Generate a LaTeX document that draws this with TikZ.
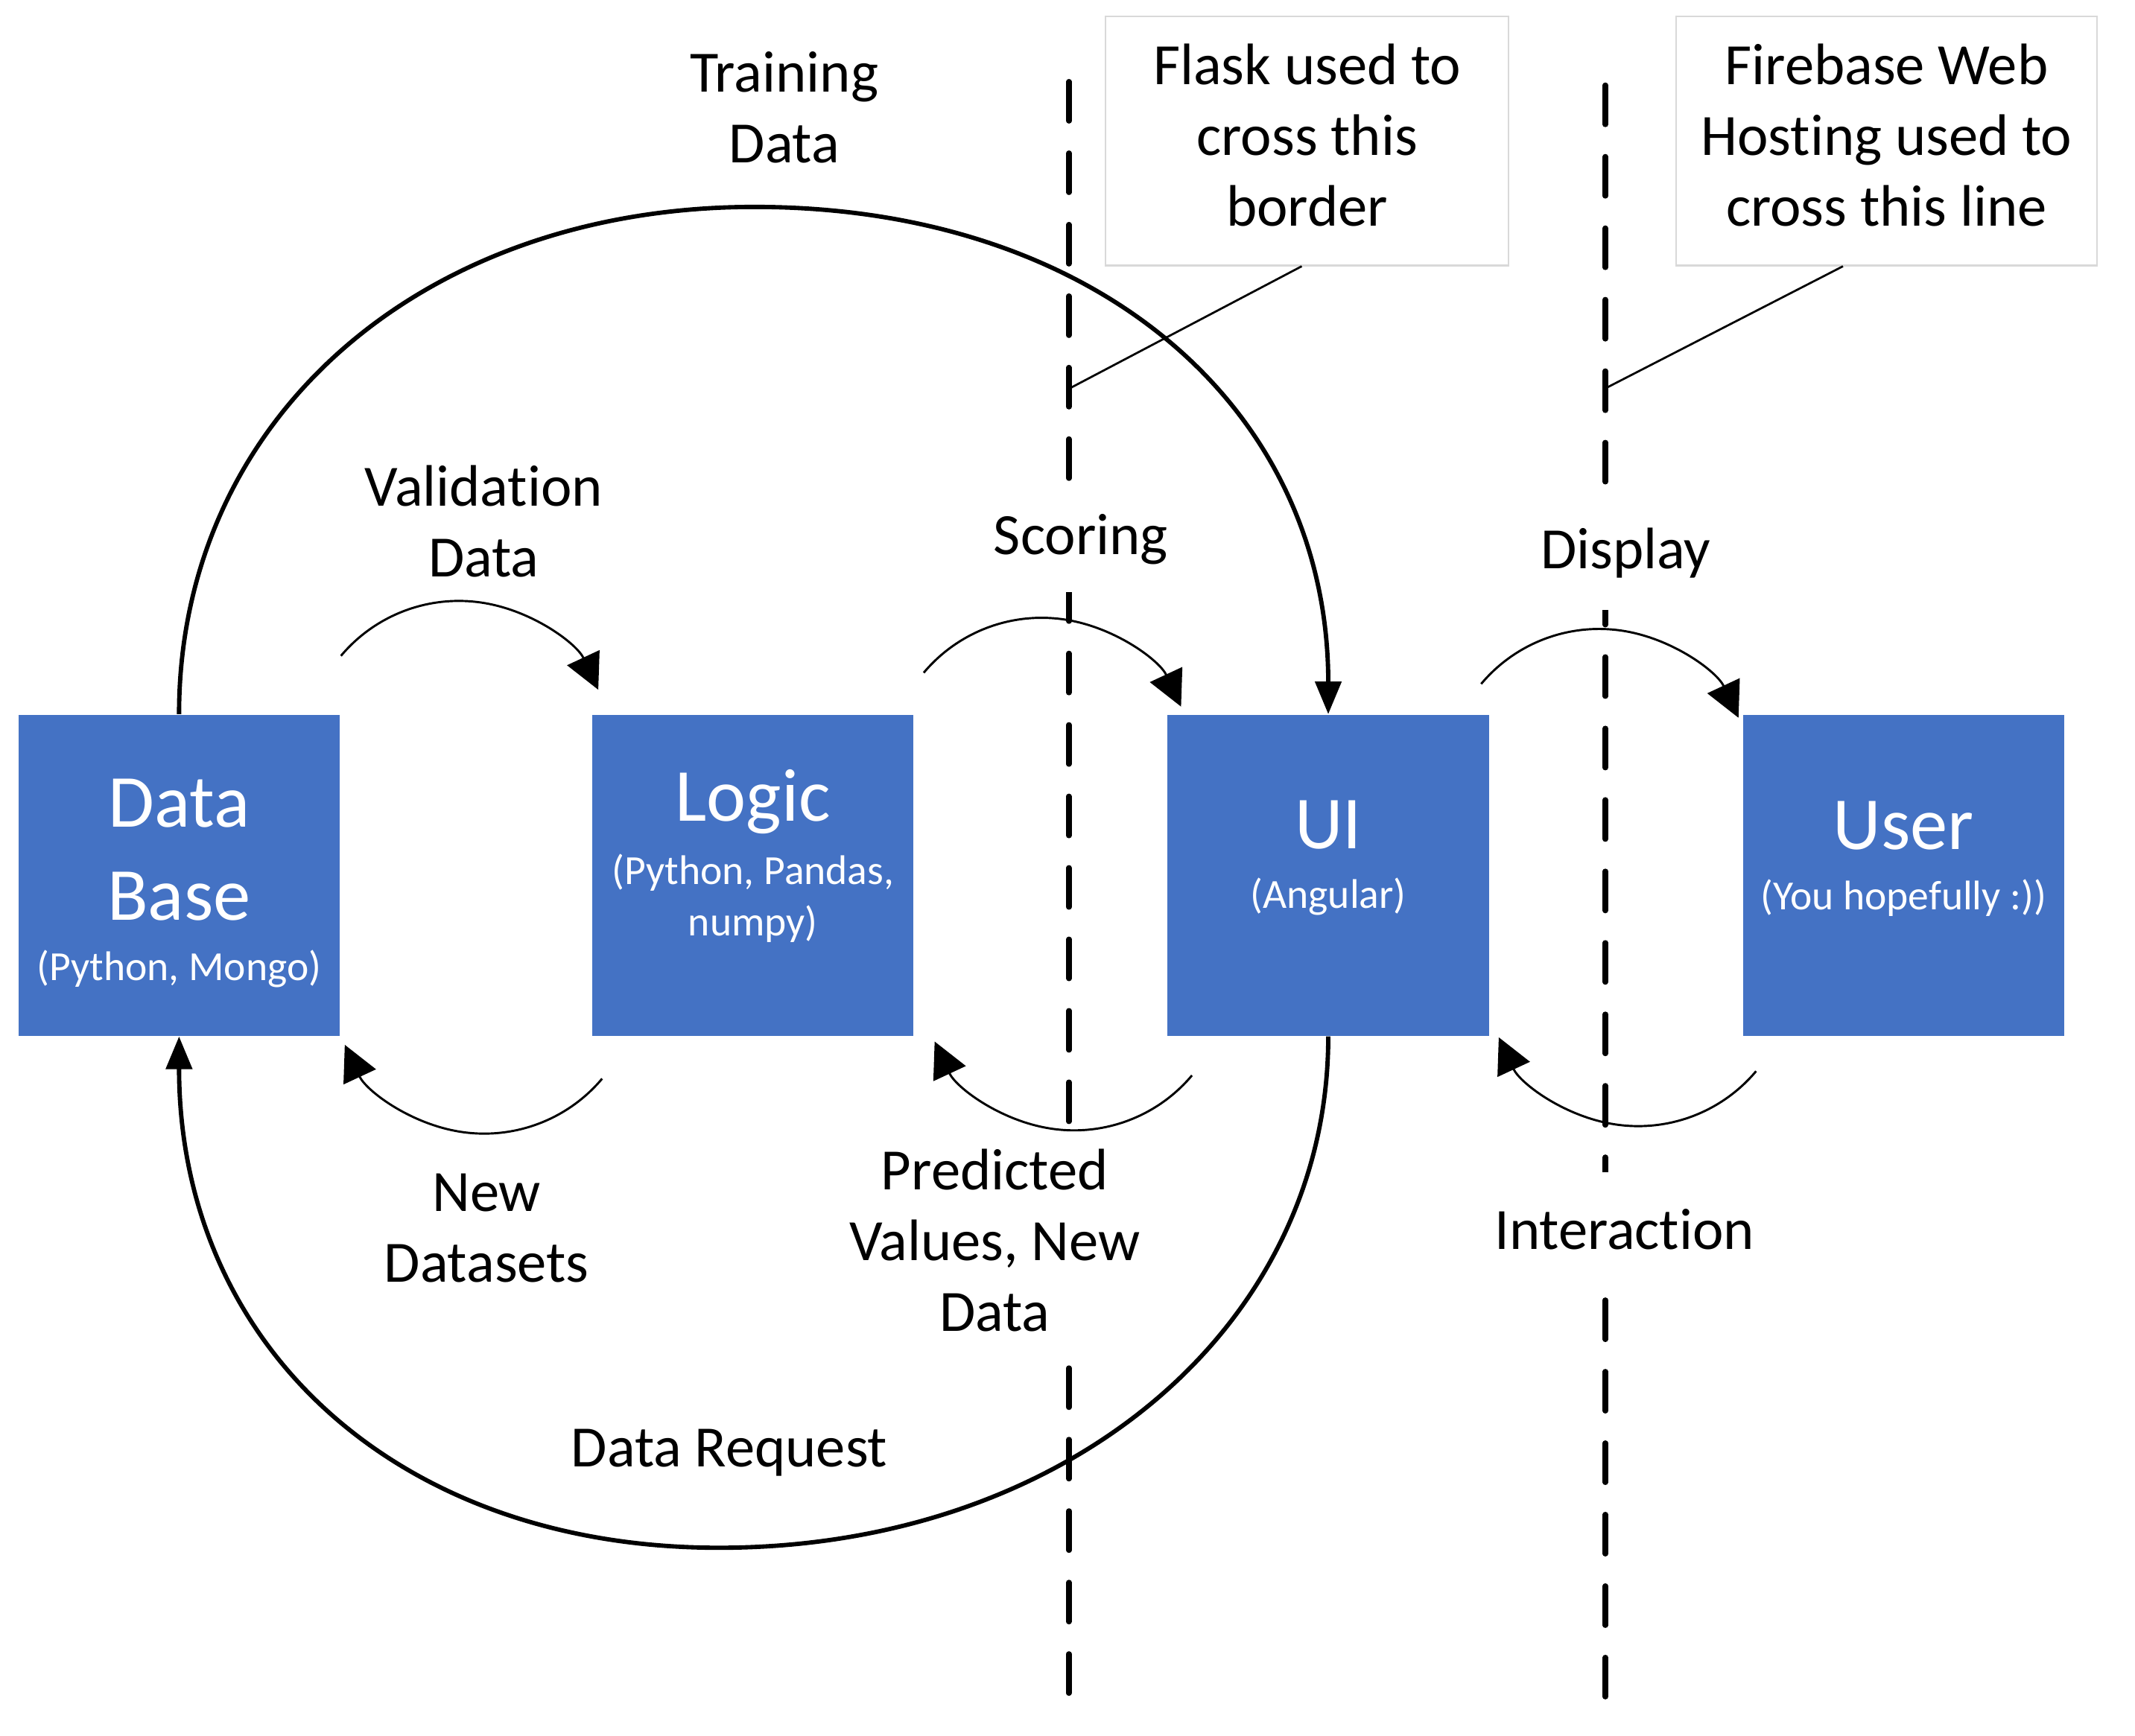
\documentclass[tikz,border=0pt]{standalone}
\usepackage{fontspec}
\setmainfont{Carlito}[Ligatures={NoCommon,NoRequired,NoContextual},RawFeature={-liga;-clig;-calt;-rlig;-dlig}]
\usetikzlibrary{arrows.meta}
\definecolor{boxblue}{HTML}{4472C4}
\definecolor{notegray}{HTML}{D9D9D9}
\begin{document}
\begin{tikzpicture}[x=0.5pt,y=-0.5pt,
  blockbox/.style={fill=boxblue, draw=none, minimum width=118pt, minimum height=118pt, inner sep=0pt},
  bigtext/.style={text=white, font=\fontsize{27.5}{34}\selectfont, anchor=base, inner sep=0pt},
  subtext/.style={text=white, font=\fontsize{15.2}{19}\selectfont, anchor=base, inner sep=0pt},
  lbl/.style={font=\fontsize{21.5}{26}\selectfont, align=center, inner sep=0pt},
  masklbl/.style={lbl, fill=white, inner xsep=3pt},
  notebox/.style={lbl, draw=notegray, line width=0.6pt, fill=white, minimum height=91.5pt},
  dashline/.style={line width=2pt, dash pattern=on 14.4pt off 11.85pt, line cap=round},
  pointer/.style={line width=0.75pt},
  bigflow/.style={line width=1.6pt, -{Triangle[length=12pt,width=9.5pt]}},
  smallflow/.style={line width=0.8pt, -{Triangle[length=13pt,width=13pt]}},
]
\useasboundingbox (0,0) rectangle (1568,1275);

% borders (dashed)
\coordinate (L1top) at (785,60);
\coordinate (L1bot) at (785,1245);
\coordinate (L2top) at (1179,62.6);
\coordinate (L2bot) at (1179,1247);
\draw[dashline] (L1top) -- (L1bot);
\draw[dashline] (L2top) -- (L2bot);

% notes
\node[notebox, minimum width=148pt] (flask) at (960,103.5)
  {\strut Flask used to\\\strut cross this\\\strut border};
\node[notebox, minimum width=154.5pt] (fire) at (1385.5,103.5)
  {\strut Firebase Web\\\strut Hosting used to\\\strut cross this line};
\coordinate (p1) at (785,285.6);
\coordinate (p2) at (1179,285.3);
\draw[pointer] ([xshift=-2pt]flask.south) -- (p1);
\draw[pointer] ([xshift=-16pt]fire.south) -- (p2);

% labels
\node[lbl] (train) at (576,83.2) {\strut Training\\\strut Data};
\node[lbl] (valid) at (355.3,387.2) {\strut Validation\\\strut Data};
\node[masklbl, minimum height=38pt] (score) at (793.8,396.9) {\strut Scoring};
\node[masklbl, minimum height=40.8pt] (disp) at (1194,407.2) {\strut Display};
\node[lbl] (newds) at (357.3,905.5) {\strut New\\\strut Datasets};
\node[masklbl, minimum height=80pt] (pred) at (730.5,915.4)
  {\strut Predicted\\\strut Values, New\\\strut Data};
\node[masklbl, minimum height=46pt] (inter) at (1193,907.2) {\strut Interaction};
\node[lbl] (dreq) at (535.6,1067.1) {\strut Data Request};

% blocks
\node[blockbox] (db) at (131.5,643) {};
\node[blockbox] (logic) at (553,643) {};
\node[blockbox] (ui) at (975.5,643) {};
\node[blockbox] (user) at (1398,643) {};

\node[bigtext] (dbt1) at ([yshift=17.65pt]db.center) {Data};
\node[bigtext] (dbt2) at ([yshift=-16.35pt]db.center) {Base};
\node[subtext] (dbs) at ([yshift=-38.7pt]db.center) {(Python, Mongo)};
\node[bigtext] (lgt) at ([yshift=20pt]logic.center) {Logic};
\node[subtext] (lgs1) at ([yshift=-3.2pt]logic.center) {(Python, Pandas,};
\node[subtext] (lgs2) at ([yshift=-22.2pt]logic.center) {numpy)};
\node[bigtext] (uit) at ([yshift=9.75pt]ui.center) {UI};
\node[subtext] (uis) at ([yshift=-12.2pt]ui.center) {(Angular)};
\node[bigtext] (ust) at ([yshift=9.5pt]user.center) {User};
\node[subtext] (uss) at ([yshift=-12.7pt]user.center) {(You hopefully :))};

% big loops
\coordinate (topapex) at (554,152);
\coordinate (botapex) at (528,1137);
\draw[bigflow] (db.north) .. controls (131.5,308.7) and (308.7,152) .. (topapex)
  .. controls (806.9,152) and (975.5,301.2) .. (ui.north);
\draw[bigflow] (ui.south) .. controls (975.5,975.3) and (783.1,1137) .. (botapex)
  .. controls (289.8,1137) and (131.5,986.6) .. (db.south);

% small arcs
\coordinate (va) at (250.4,481.8);
\coordinate (sa) at (678.4,494.2);
\coordinate (da) at (1087.8,502.4);
\coordinate (na) at (442.2,792.4);
\coordinate (pa) at (875.4,790);
\coordinate (ia) at (1289.7,786.9);
\draw[smallflow] (va) arc[start angle=-140, end angle=-25, radius=113];
\draw[smallflow] (sa) arc[start angle=-140, end angle=-25, radius=113];
\draw[smallflow] (da) arc[start angle=-140, end angle=-25, radius=113];
\draw[smallflow] (na) arc[start angle=40, end angle=155, radius=113];
\draw[smallflow] (pa) arc[start angle=40, end angle=155, radius=113];
\draw[smallflow] (ia) arc[start angle=40, end angle=155, radius=113];
\end{tikzpicture}
\end{document}
